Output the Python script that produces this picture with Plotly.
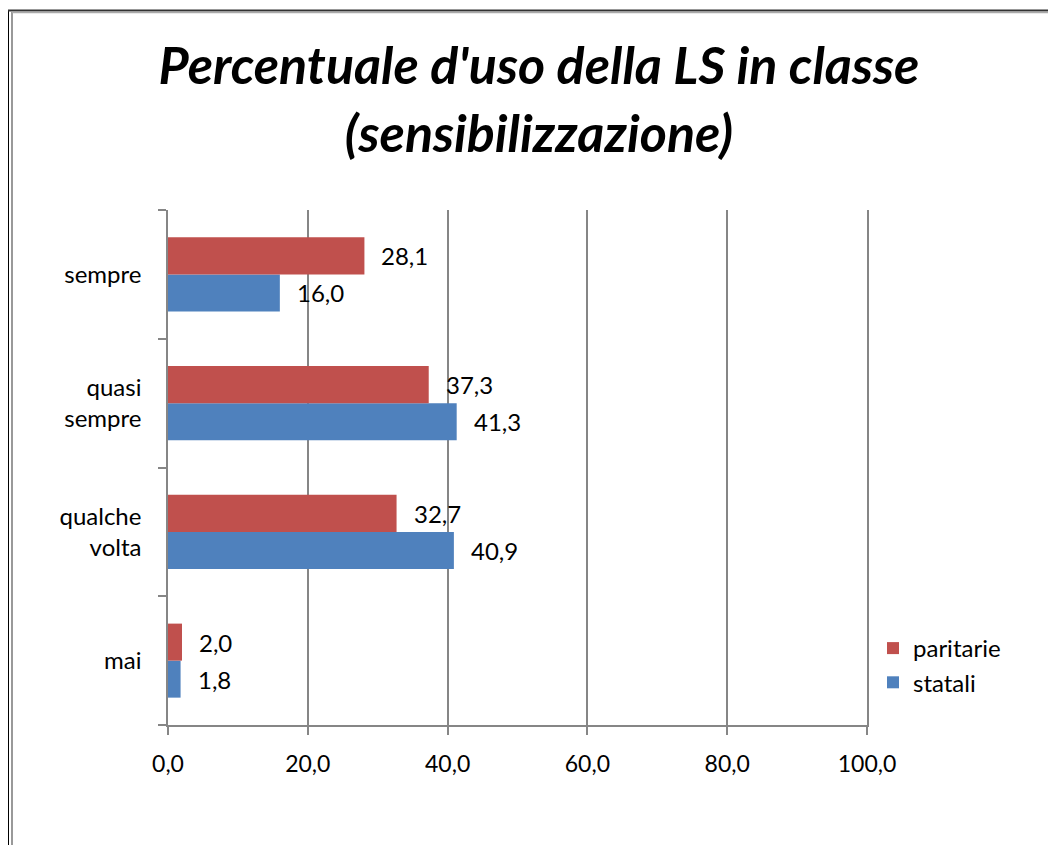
import plotly.graph_objects as go

categories = ["mai", "qualche volta", "quasi sempre", "sempre"]
cat_labels = ["mai", "qualche<br>volta", "quasi<br>sempre", "sempre"]
paritarie = [2.0, 32.7, 37.3, 28.1]
statali = [1.8, 40.9, 41.3, 16.0]
tick_vals = [0, 20, 40, 60, 80, 100]
tick_text = ["0,0", "20,0", "40,0", "60,0", "80,0", "100,0"]

RED = "#C0504D"
BLUE = "#4F81BD"
GRID = "#868686"
FONT = "Lato"

fig = go.Figure()
fig.add_trace(go.Bar(y=categories, x=statali, orientation="h", name="statali",
                     marker=dict(color=BLUE, line=dict(width=0))))
fig.add_trace(go.Bar(y=categories, x=paritarie, orientation="h", name="paritarie",
                     marker=dict(color=RED, line=dict(width=0))))

def fmt(v):
    return f"{v:.1f}".replace(".", ",")

annotations = []
half = 0.575 / 4
for i, c in enumerate(categories):
    annotations.append(dict(x=statali[i], y=i - half, xref="x", yref="y", text=fmt(statali[i]),
                            showarrow=False, xanchor="left", yanchor="middle", xshift=15,
                            font=dict(family=FONT, size=24, color="black")))
    annotations.append(dict(x=paritarie[i], y=i + half, xref="x", yref="y", text=fmt(paritarie[i]),
                            showarrow=False, xanchor="left", yanchor="middle", xshift=15,
                            font=dict(family=FONT, size=24, color="black")))

OFF = 8  # page body margin
L, R, T, B = 168 - OFF, 867 - OFF, 210 - OFF, 725 - OFF
W, H = 1056, 845
def px(s):
    return (s - OFF - L) / (R - L)
def py(s):
    return (B - (s - OFF)) / (B - T)

shapes = [
    dict(type="line", xref="paper", yref="paper", x0=px(8), x1=px(8), y0=py(10), y1=py(860),
         line=dict(color="black", width=2)),
    dict(type="line", xref="paper", yref="paper", x0=px(12), x1=px(12), y0=py(12), y1=py(860),
         line=dict(color="#999999", width=2)),
    dict(type="line", xref="paper", yref="paper", x0=px(7), x1=px(1070), y0=py(10.5), y1=py(10.5),
         line=dict(color="#333333", width=2)),
    dict(type="line", xref="paper", yref="paper", x0=px(12), x1=px(1070), y0=py(12.5), y1=py(12.5),
         line=dict(color="#aaaaaa", width=1.5)),
]

fig.update_layout(
    width=W, height=H,
    margin=dict(l=L, r=W - R, t=T, b=H - B, pad=0),
    paper_bgcolor="white", plot_bgcolor="white",
    barmode="group", bargap=0.425, bargroupgap=0,
    title=dict(text="<b><i>Percentuale d'uso della LS in classe<br>(sensibilizzazione)</i></b>",
               x=px(539), xref="paper", xanchor="center", y=1 - (84 - OFF) / H, yanchor="middle",
               font=dict(family=FONT, size=52, color="black")),
    font=dict(family=FONT, size=24, color="black"),
    xaxis=dict(range=[0, 100], tickvals=tick_vals, ticktext=tick_text,
               showgrid=True, gridcolor=GRID, gridwidth=1.5,
               showline=True, linecolor=GRID, linewidth=1.5,
               ticks="outside", ticklen=8, tickcolor=GRID, tickwidth=1.5,
               zeroline=False, ticklabelstandoff=10,
               tickfont=dict(family=FONT, size=23, color="black"),
               fixedrange=True),
    yaxis=dict(categoryorder="array", categoryarray=categories,
               tickvals=categories, ticktext=cat_labels,
               showline=True, mirror=True, linecolor=GRID, linewidth=1.5,
               ticks="outside", ticklen=8, tickcolor=GRID, tickwidth=1.5,
               tickson="boundaries", showgrid=False, zeroline=False,
               range=[-0.5, 3.5], ticklabelstandoff=20,
               tickfont=dict(family=FONT, size=24, color="black")),
    legend=dict(x=px(873), y=py(626), xanchor="left", yanchor="top",
                traceorder="reversed", font=dict(family=FONT, size=24, color="black"),
                bgcolor="rgba(0,0,0,0)", itemwidth=30, tracegroupgap=0),
    annotations=annotations,
    shapes=shapes,
    showlegend=True,
)

fig.write_html("out.html")
